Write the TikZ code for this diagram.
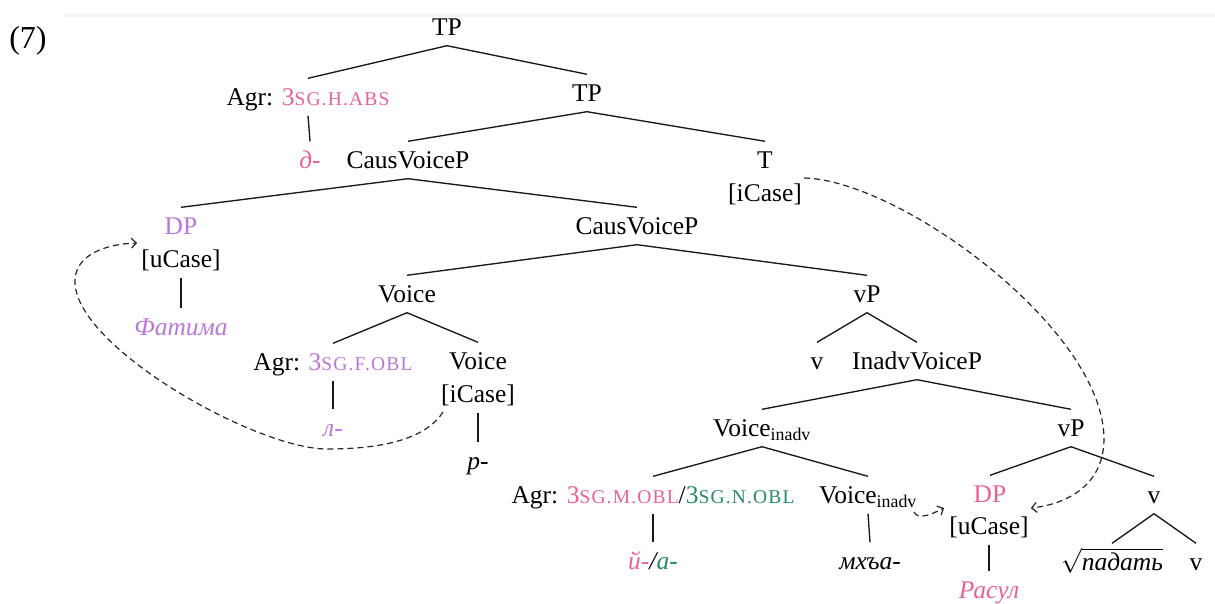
\documentclass[tikz,border=0pt]{standalone}
\usepackage{fontspec}
\setmainfont{Liberation Serif}
\newfontfamily\scfont[LetterSpace=6]{Liberation Serif}
\usetikzlibrary{arrows.meta}
\definecolor{pinkc}{RGB}{232,98,152}
\definecolor{purp}{RGB}{185,120,215}
\definecolor{grn}{RGB}{40,140,100}
\newcommand\tfont{\fontsize{25.5}{30}\selectfont}
\newcommand\smc[1]{{\scfont\fontsize{19.5}{22}\selectfont #1}}
\tikzset{
  every node/.style={font=\tfont, text height=17pt, text depth=0pt, inner xsep=2pt, inner ysep=10pt},
  br/.style={line width=1.35pt, draw=black!90},
  mv/.style={dashed, dash pattern=on 6pt off 4pt, line width=1.2pt, draw=black!85, -{Straight Barb[length=5pt,width=10pt]}},
}
\begin{document}
\begin{tikzpicture}[x=1pt,y=-1pt]
\useasboundingbox (0,0) rectangle (1215,603);
\draw[line width=3pt, black!4] (64,15) -- (1215,15);
\node[font=\fontsize{32}{36}\selectfont] (ex) at (28,40) {(7)};
% nodes
\node (tp) at (447,27) {TP};
\node (agr1) at (308,97) {Agr: {\color{pinkc}3\smc{SG.H.ABS}}};
\node (d) at (310,160) {\color{pinkc}\itshape д-};
\node (tp2) at (587,93) {TP};
\node (cvp1) at (408,160) {CausVoiceP};
\node (t) at (765,160) {T};
\node (tcase) at (765,193) {[iCase]};
\node (dp1) at (181,226) {\color{purp}DP};
\node (ucase1) at (181,259) {[uCase]};
\node (fatima) at (181,327) {\color{purp}\itshape Фатима};
\node (cvp2) at (637,226) {CausVoiceP};
\node (voice1) at (407,294) {Voice};
\node (agr2) at (333,362) {Agr: {\color{purp}3\smc{SG.F.OBL}}};
\node (l) at (333,428) {\color{purp}\itshape л-};
\node (voice2) at (478,361) {Voice};
\node (icase2) at (478,394) {[iCase]};
\node (r) at (478,461) {\itshape р-};
\node (vp1) at (867,294) {vP};
\node (v1) at (817,361) {v};
\node (ivp) at (917,361) {InadvVoiceP};
\node (vin1) at (762,428) {Voice\textsubscript{inadv}};
\node (agr3) at (653,495) {Agr: {\color{pinkc}3\smc{SG.M.OBL}}/{\color{grn}3\smc{SG.N.OBL}}};
\node (ya) at (653,561) {\itshape{\color{pinkc}й-}/{\color{grn}а-}};
\node (vin2) at (868,495) {Voice\textsubscript{inadv}};
\node (mhya) at (870,561) {\itshape мхъа-};
\node (vp2) at (1071,428) {vP};
\node (dp2) at (990,494) {\color{pinkc}DP};
\node (ucase2) at (989,526) {[uCase]};
\node (rasul) at (989,590) {\color{pinkc}\itshape Расул};
\node (v2) at (1154,495) {v};
\node (root) at (1112,562) {$\sqrt{\mbox{\itshape падать}}$};
\node (v3) at (1196,562) {v};
% branches
\draw[br] (tp.south) -- (agr1.north);
\draw[br] (tp.south) -- (tp2.north);
\draw[br] (agr1.south) -- (d.north);
\draw[br] (tp2.south) -- (cvp1.north);
\draw[br] (tp2.south) -- (t.north);
\draw[br] (cvp1.south) -- (dp1.north);
\draw[br] (cvp1.south) -- (cvp2.north);
\draw[br] (ucase1.south) -- (fatima.north);
\draw[br] (cvp2.south) -- (voice1.north);
\draw[br] (cvp2.south) -- (vp1.north);
\draw[br] (voice1.south) -- (agr2.north);
\draw[br] (voice1.south) -- (voice2.north);
\draw[br] (agr2.south) -- (l.north);
\draw[br] (icase2.south) -- (r.north);
\draw[br] (vp1.south) -- (v1.north);
\draw[br] (vp1.south) -- (ivp.north);
\draw[br] (ivp.south) -- (vin1.north);
\draw[br] (ivp.south) -- (vp2.north);
\draw[br] (vin1.south) -- (agr3.north);
\draw[br] (vin1.south) -- (vin2.north);
\draw[br] (agr3.south) -- (ya.north);
\draw[br] (vin2.south) -- (mhya.north);
\draw[br] (vp2.south) -- (dp2.north);
\draw[br] (vp2.south) -- (v2.north);
\draw[br] (ucase2.south) -- (rasul.north);
\draw[br] (v2.south) -- (root.north);
\draw[br] (v2.south) -- (v3.north);
% movement arrows
\draw[mv] (443,412) .. controls (425,440) and (380,449) .. (327,449)
  .. controls (255,449) and (72,345) .. (75,280)
  .. controls (76,255) and (105,244) .. ([xshift=-2pt,yshift=16pt]ucase1.west);
\draw[mv] ([yshift=15pt]tcase.east) .. controls (900,180) and (1105,330) .. (1104,440)
  .. controls (1103,490) and (1060,505) .. ([yshift=18pt]ucase2.east);
\draw[mv] (914,512) .. controls (918,520) and (930,515) .. ([xshift=-3pt,yshift=18pt]ucase2.west);
\end{tikzpicture}
\end{document}
